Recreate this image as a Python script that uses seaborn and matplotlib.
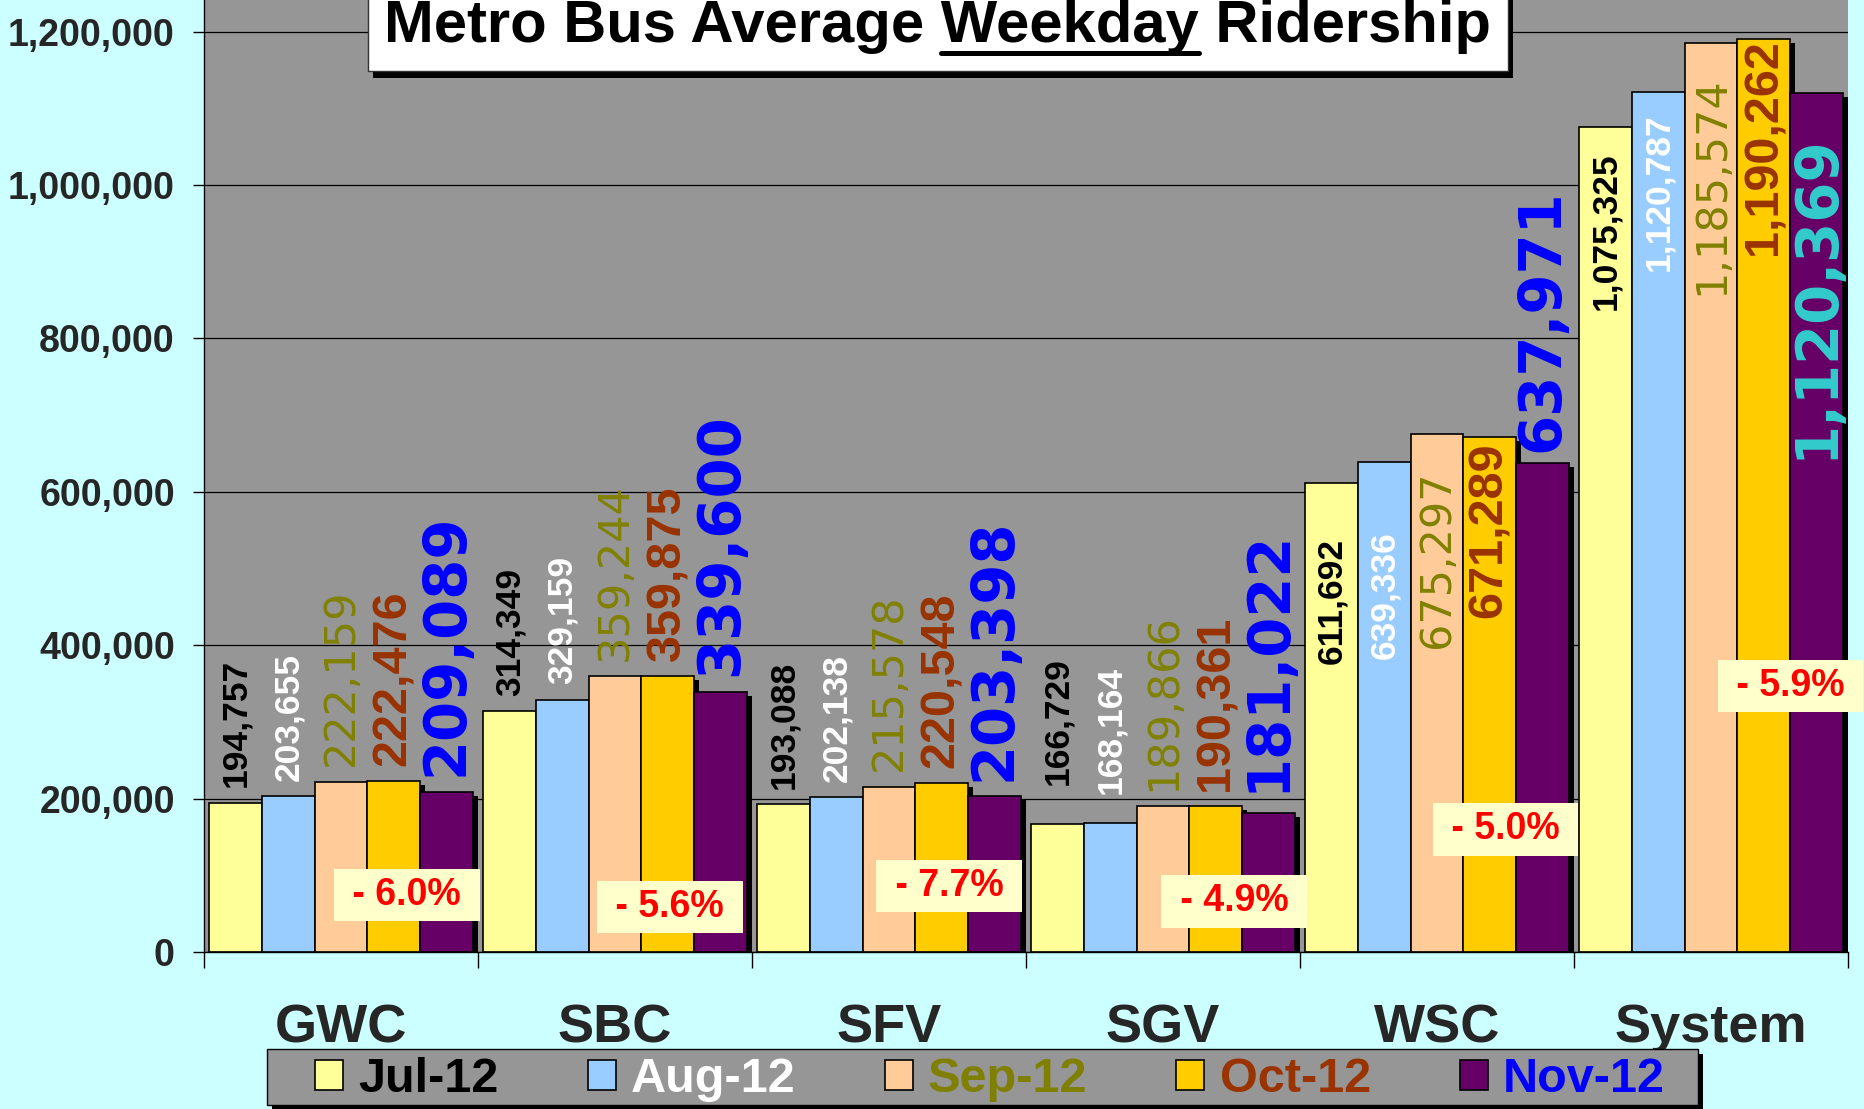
import matplotlib
matplotlib.use('Agg')
import matplotlib.pyplot as plt
import matplotlib.patheffects as pe
from matplotlib.lines import Line2D
from matplotlib.patches import Rectangle
from matplotlib.ticker import FuncFormatter
import seaborn as sns
import pandas as pd

# Data
regions = ['GWC', 'SBC', 'SFV', 'SGV', 'WSC', 'System']
months = ['Jul-12', 'Aug-12', 'Sep-12', 'Oct-12', 'Nov-12']
jul = [194757, 314349, 193088, 166729, 611692, 1075325]
aug = [203655, 329159, 202138, 168164, 639336, 1120787]
sep = [222159, 359244, 215578, 189866, 675297, 1185574]
octo = [222476, 359875, 220548, 190361, 671289, 1190262]
nov = [209089, 339600, 203398, 181022, 637971, 1120369]
pct_change = [-6.0, -5.6, -7.7, -4.9, -5.0, -5.9]

# Styling
bar_colors = ['#FFFF99', '#99CCFF', '#FFCC99', '#FFCC00', '#660066']
text_colors = ['black', 'white', '#808000', '#993300', '#0000FF']
label_fonts = [
    dict(family='Liberation Sans', weight='bold', size=25.5),
    dict(family='Liberation Sans', weight='bold', size=25.5),
    dict(family='DejaVu Sans', weight='normal', size=31),
    dict(family='Liberation Sans', weight='bold', size=35),
    dict(family='DejaVu Sans', weight='bold', size=41.5),
]
# labels placed inside the bar (offset in points below the bar top)
inside = {(4, 0): 40, (4, 1): 50, (4, 2): 26, (4, 3): 4,
          (5, 0): 18, (5, 1): 15, (5, 2): 24, (5, 3): 0, (5, 4): 30}
# labels above the bar that sit further up than the usual gap
raised = {(3, 0): 28, (3, 1): 21, (3, 4): 15, (4, 4): 8}
# where the % change boxes sit (x offset from group centre, y in riders)
pct_pos = [(0.24, 74000), (0.20, 59000), (0.22, 86000),
           (0.26, 66000), (0.25, 160000), (0.29, 347000)]

df = pd.DataFrame({
    'region': regions * len(months),
    'month': [m for m in months for _ in regions],
    'riders': jul + aug + sep + octo + nov,
})

sns.set_theme(style='white')
plt.rcParams['font.family'] = ['Liberation Sans', 'DejaVu Sans']
plt.rcParams['font.weight'] = 'bold'

W, H = 1864, 1109
fig = plt.figure(figsize=(W / 100, H / 100), dpi=100, facecolor='#CCFFFF')
ax = fig.add_axes([204 / W, 157 / H, 1644 / W, 952 / H])
ax.set_facecolor('#969696')

sns.barplot(data=df, x='region', y='riders', hue='month', order=regions, hue_order=months,
            palette=bar_colors, saturation=1, width=0.96, edgecolor='black', linewidth=1.2,
            errorbar=None, legend=False, ax=ax)

shadow = [pe.SimplePatchShadow(offset=(3.6, -2.9), shadow_rgbFace='black', alpha=1), pe.Normal()]
for bar in ax.patches:
    bar.set_path_effects(shadow)

ax.set_xlim(-0.5, len(regions) - 0.5)
ax.set_ylim(0, 1241333)
ax.set_yticks(range(0, 1200001, 200000))
ax.yaxis.set_major_formatter(FuncFormatter(lambda v, p: f'{v:,.0f}'))
ax.yaxis.grid(True, color='black', lw=0.9)
ax.set_axisbelow(True)
ax.set_xlabel('')
ax.set_ylabel('')
for s in ['top', 'right']:
    ax.spines[s].set_visible(False)
for s in ['left', 'bottom']:
    ax.spines[s].set_color('black')
    ax.spines[s].set_linewidth(1)

ax.tick_params(axis='y', direction='out', length=8, width=1, color='black', pad=13, labelsize=27, left=True)
ax.set_xticks([i - 0.5 for i in range(len(regions) + 1)], minor=True)
ax.tick_params(axis='x', which='minor', direction='out', length=11.5, width=1, color='black', bottom=True)
ax.tick_params(axis='x', which='major', length=0, pad=37, labelsize=39)

# value labels
for mi, cont in enumerate(ax.containers):
    for ri, bar in enumerate(cont):
        h = bar.get_height()
        cx = bar.get_x() + bar.get_width() / 2
        color = text_colors[mi]
        if (ri, mi) == (5, 4):
            color = '#33CCCC'
        if (ri, mi) in inside:
            off, va = -inside[(ri, mi)], 'top'
        else:
            off, va = raised.get((ri, mi), 11), 'bottom'
        ax.annotate(f'{h:,.0f}', xy=(cx, h), xytext=(0, off), textcoords='offset points',
                    rotation=90, ha='center', va=va, color=color, annotation_clip=False,
                    zorder=4, **label_fonts[mi])

# % change boxes
for ri, pct in enumerate(pct_change):
    dx, y = pct_pos[ri]
    ax.text(ri + dx, y, f' - {abs(pct):.1f}% ', ha='center', va='center', color='#FF0000',
            fontsize=27, weight='bold', zorder=6, clip_on=False,
            bbox=dict(boxstyle='square,pad=0.22', facecolor='#FFFFCC', edgecolor='none'))

# title box with underlined "Weekday"
title = 'Metro Bus Average Weekday Ridership'
t = fig.text(938 / W, 1 - 42 / H, title, ha='center', va='baseline', fontsize=43,
             weight='bold', color='black', zorder=10,
             bbox=dict(boxstyle='square,pad=0.28', facecolor='white', edgecolor='#333333', lw=1))
t.get_bbox_patch().set_path_effects(
    [pe.SimplePatchShadow(offset=(3.6, -5), shadow_rgbFace='black', alpha=1), pe.Normal()])

# legend
handles = [Rectangle((0, 0), 1, 1, facecolor=c, edgecolor='black', lw=1.2) for c in bar_colors]
leg = fig.legend(handles, months, loc='center left', bbox_to_anchor=(315 / W, 1 - 1080 / H),
                 ncol=5, frameon=False, fontsize=35, handlelength=0.58, handleheight=0.58,
                 handletextpad=0.31, columnspacing=1.83, borderaxespad=0, borderpad=0)
for txt, c in zip(leg.get_texts(), text_colors):
    txt.set_color(c)
leg.set_zorder(12)
fig.add_artist(Rectangle((267 / W, 1 - 1105 / H), (1698 - 267) / W, (1105 - 1049) / H,
                         transform=fig.transFigure, facecolor='#969696', edgecolor='black',
                         lw=1, zorder=11,
                         path_effects=[pe.SimplePatchShadow(offset=(3.6, -3.6), shadow_rgbFace='black', alpha=1),
                                       pe.Normal()]))

fig.canvas.draw()
r = fig.canvas.get_renderer()
full = t.get_window_extent(r)
tmp = fig.text(0, 0, 'Metro Bus Average Weekday', fontsize=43, weight='bold')
w_upto = tmp.get_window_extent(r).width
tmp.set_text('Weekday')
w_word = tmp.get_window_extent(r).width
tmp.remove()
x1 = full.x0 + w_upto
x0 = x1 - w_word
fig.add_artist(Line2D([x0 / W, x1 / W], [1 - 53 / H, 1 - 53 / H], transform=fig.transFigure,
                      color='black', lw=3.6, zorder=11))

fig.savefig('out.png', dpi=100, facecolor=fig.get_facecolor())
